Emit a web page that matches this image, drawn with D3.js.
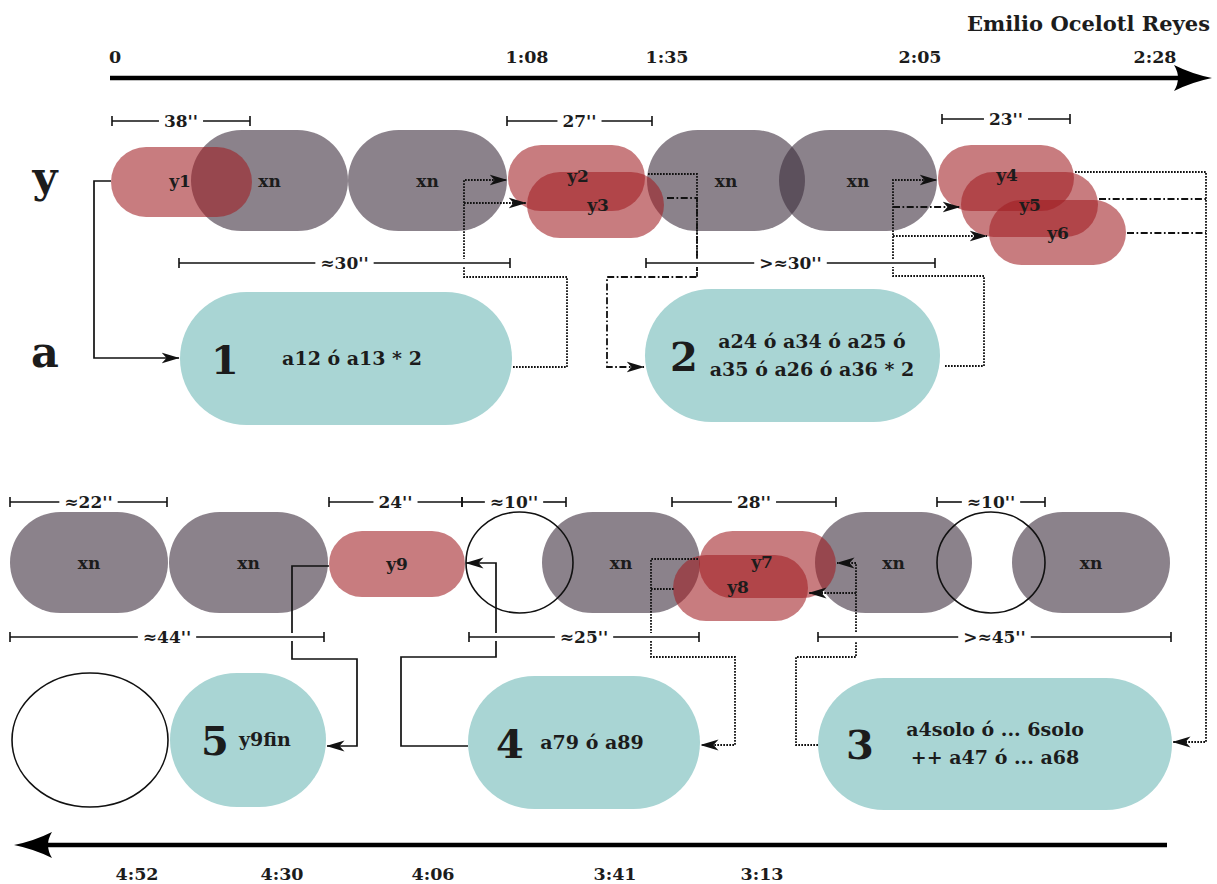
<!DOCTYPE html>
<html>
<head>
<meta charset="utf-8">
<script src="https://cdn.jsdelivr.net/npm/d3@7"></script>
<style>
body { margin: 0; background: #fff; }
svg { display: block; }
text { font-family: "DejaVu Serif", serif; font-weight: bold; fill: #1c1c1c; }
</style>
</head>
<body>
<div id="chart"></div>
<script>
var W = 1217, H = 884;

// the diagram is laid out in "score units" (one unit per px of the original sheet)
var x = d3.scaleLinear().domain([0, 1217]).range([0, W]);
var y = d3.scaleLinear().domain([0, 884]).range([0, H]);

// timeline ticks
var topTicks = ["0", "1:08", "1:35", "2:05", "2:28"];
var topTickAt = [115, 527, 667, 920, 1155];
var bottomTicks = ["4:52", "4:30", "4:06", "3:41", "3:13"];
var bottomTickAt = [137, 282, 433, 615, 762];

// track names
var tracks = ["y", "a"];
var trackAt = [182, 357];

// voice blocks: label, start, end, top, bottom
var xnBlocks = [
  ["xn", 191, 348, 130, 231], ["xn", 348, 507, 130, 231],
  ["xn", 647, 805, 130, 231], ["xn", 779, 937, 130, 231],
  ["xn", 10, 168, 512, 613], ["xn", 169, 328, 512, 613],
  ["xn", 542, 700, 512, 613], ["xn", 815, 972, 512, 613],
  ["xn", 1012, 1170, 512, 613]
];
// y blocks: label, start, end, top, bottom, label pos, label height
var yBlocks = [
  ["y1", 111, 252, 147, 217, 180, 181],
  ["y2", 508, 645, 145, 211, 578, 176],
  ["y3", 527, 664, 172, 238, 598, 205],
  ["y4", 938, 1074, 145, 211, 1007, 175],
  ["y5", 961, 1098, 172, 237, 1030, 205],
  ["y6", 989, 1126, 200, 265, 1058, 233],
  ["y9", 329, 465, 531, 597, 397, 564],
  ["y7", 699, 836, 531, 598, 762, 562],
  ["y8", 673, 808, 555, 621, 738, 587]
];
// answer blocks: number, text lines, start, end, top, bottom, text pos
var aBlocks = [
  ["1", ["a12 ó a13 * 2"], 180, 512, 292, 425, 352],
  ["2", ["a24 ó a34 ó a25 ó", "a35 ó a26 ó a36 * 2"], 645, 940, 289, 422, 812],
  ["3", ["a4solo ó ... 6solo", "++ a47 ó ... a68"], 818, 1172, 678, 810, 995],
  ["4", ["a79 ó a89"], 468, 700, 676, 809, 592],
  ["5", ["y9fin"], 170, 326, 673, 807, 265]
];
var aNumberAt = [225, 684, 860, 510, 215];

// silences (empty circles): start, end, top, bottom
var rests = [[466, 573, 512, 613], [937, 1045, 512, 613], [12, 168, 673, 807]];

// durations: label, start, end, height
var spans = [
  ["38''", 112, 250, 121], ["27''", 507, 652, 121], ["23''", 942, 1070, 119],
  ["≈30''", 179, 510, 263], [">≈30''", 646, 935, 263],
  ["≈22''", 10, 167, 502], ["24''", 329, 462, 502], ["≈10''", 462, 566, 502],
  ["28''", 672, 836, 502], ["≈10''", 937, 1045, 502],
  ["≈44''", 10, 324, 637], ["≈25''", 469, 699, 637], [">≈45''", 818, 1171, 637]
];

// links between blocks: style, arrow, path
var links = [
  ["solid", true, [[111, 181], [94, 181], [94, 358], [179, 358]]],
  ["dot", true, [[513, 367], [567, 367], [567, 277], [464, 277], [464, 180], [507, 180]]],
  ["dot", true, [[464, 203], [526, 203]]],
  ["dot", false, [[648, 174], [697, 174], [697, 277]]],
  ["dashdot", true, [[667, 198], [697, 198], [697, 277], [607, 277], [607, 367], [644, 367]]],
  ["dot", true, [[945, 366], [984, 366], [984, 276], [893, 276], [893, 180], [937, 180]]],
  ["dashdot", true, [[893, 207], [960, 207]]],
  ["dot", true, [[893, 236], [987, 236]]],
  ["dot", true, [[1075, 172], [1206, 172], [1206, 742], [1173, 742]]],
  ["dashdot", false, [[1099, 199], [1206, 199]]],
  ["dashdot", false, [[1127, 233], [1206, 233]]],
  ["solid", true, [[329, 566], [292, 566], [292, 659], [357, 659], [357, 746], [327, 746]]],
  ["solid", true, [[468, 746], [401, 746], [401, 657], [496, 657], [496, 563], [466, 563]]],
  ["dot", true, [[698, 559], [651, 559], [651, 657], [735, 657], [735, 745], [701, 745]]],
  ["dot", false, [[651, 589], [675, 589]]],
  ["dot", true, [[818, 745], [796, 745], [796, 657], [856, 657], [856, 563], [837, 563]]],
  ["dot", true, [[856, 593], [809, 593]]]
];

var svg = d3.select("#chart").append("svg").attr("width", W).attr("height", H);

var defs = svg.append("defs");
defs.append("marker")
  .attr("id", "head")
  .attr("viewBox", "0 0 18 13")
  .attr("refX", 17.5).attr("refY", 6.5)
  .attr("markerWidth", 18).attr("markerHeight", 13)
  .attr("markerUnits", "userSpaceOnUse")
  .attr("orient", "auto")
  .append("path")
  .attr("d", "M0,1 L18,6.5 L0,12 L5,6.5 Z")
  .attr("fill", "#111");

function pill(g, x0, x1, y0, y1) {
  var h = y(y1) - y(y0);
  return g.append("rect")
    .attr("x", x(x0)).attr("y", y(y0))
    .attr("width", x(x1) - x(x0)).attr("height", h)
    .attr("rx", Math.min(h / 2, (x(x1) - x(x0)) / 2)).attr("ry", h / 2);
}

// timelines
function bigArrow(x0, x1, yy, dir) {
  svg.append("line")
    .attr("x1", x(x0)).attr("x2", x(x1) - dir * 30)
    .attr("y1", y(yy)).attr("y2", y(yy))
    .attr("stroke", "#000").attr("stroke-width", 4.5);
  var tip = x(x1), b = tip - dir * 38, m = tip - dir * 30;
  svg.append("path")
    .attr("d", "M" + tip + "," + y(yy) + " Q" + (tip - dir * 20) + "," + (y(yy) - 4) + " " + b + "," + (y(yy) - 13) +
      " Q" + m + "," + y(yy) + " " + b + "," + (y(yy) + 13) +
      " Q" + (tip - dir * 20) + "," + (y(yy) + 4) + " " + tip + "," + y(yy) + " Z")
    .attr("fill", "#000");
}
bigArrow(110, 1212, 78, 1);
bigArrow(1167, 14, 845, -1);

svg.selectAll(".ttick").data(topTicks).enter().append("text")
  .attr("x", function(d, i) { return x(topTickAt[i]); })
  .attr("y", y(63))
  .attr("text-anchor", "middle")
  .attr("font-size", 17.5).text(function(d) { return d; });
svg.selectAll(".btick").data(bottomTicks).enter().append("text")
  .attr("x", function(d, i) { return x(bottomTickAt[i]); })
  .attr("y", y(880))
  .attr("text-anchor", "middle")
  .attr("font-size", 17.5).text(function(d) { return d; });
svg.append("text").attr("x", x(1210)).attr("y", y(31)).attr("text-anchor", "end")
  .attr("font-size", 21).text("Emilio Ocelotl Reyes");

svg.selectAll(".track").data(tracks).enter().append("text")
  .attr("x", x(45)).attr("y", function(d, i) { return y(trackAt[i]) + 10; })
  .attr("text-anchor", "middle").attr("font-size", 43)
  .text(function(d) { return d; });

// answer blocks (teal)
var aG = svg.append("g");
aBlocks.forEach(function(d) {
  pill(aG, d[2], d[3], d[4], d[5]).attr("fill", "#a9d5d4");
});

// xn blocks
var xG = svg.append("g");
xnBlocks.forEach(function(d) {
  pill(xG, d[1], d[2], d[3], d[4]).attr("fill", "#3e2f3e").attr("fill-opacity", 0.6);
});
// y blocks on top
var yG = svg.append("g");
yBlocks.forEach(function(d) {
  pill(yG, d[1], d[2], d[3], d[4]).attr("fill", "#a01e23").attr("fill-opacity", 0.58);
});

// rest outlines above blocks
svg.selectAll(".rest").data(rests).enter().append("ellipse")
  .attr("cx", function(d) { return x((d[0] + d[1]) / 2); })
  .attr("cy", function(d) { return y((d[2] + d[3]) / 2); })
  .attr("rx", function(d) { return (x(d[1]) - x(d[0])) / 2; })
  .attr("ry", function(d) { return (y(d[3]) - y(d[2])) / 2; })
  .attr("fill", "none").attr("stroke", "#111").attr("stroke-width", 1.6);

// block labels
xnBlocks.forEach(function(d) {
  svg.append("text").attr("x", x((d[1] + d[2]) / 2)).attr("y", y((d[3] + d[4]) / 2) + 6)
    .attr("text-anchor", "middle").attr("font-size", 17).text(d[0]);
});
yBlocks.forEach(function(d) {
  svg.append("text").attr("x", x(d[5])).attr("y", y(d[6]) + 6)
    .attr("text-anchor", "middle").attr("font-size", 17).attr("fill", "#2a1a1a").text(d[0]);
});
aBlocks.forEach(function(d, k) {
  var cy = (d[4] + d[5]) / 2;
  svg.append("text").attr("x", x(aNumberAt[k])).attr("y", y(cy) + 15)
    .attr("text-anchor", "middle").attr("font-size", 40).text(d[0]);
  d[1].forEach(function(line, i) {
    svg.append("text")
      .attr("x", x(d[6]))
      .attr("y", y(cy) + 6 + (i - (d[1].length - 1) / 2) * 28)
      .attr("text-anchor", "middle").attr("font-size", 19).text(line);
  });
});

// links
var line = d3.line().x(function(p) { return x(p[0]); }).y(function(p) { return y(p[1]); });
var dash = { solid: null, dot: "1.7,1.3", dashdot: "7,2.5,1.7,2.5" };
links.forEach(function(d) {
  svg.append("path").attr("d", line(d[2]))
    .attr("fill", "none").attr("stroke", "#111")
    .attr("stroke-width", d[0] == "solid" ? 1.7 : 1.8)
    .attr("stroke-dasharray", dash[d[0]])
    .attr("marker-end", d[1] ? "url(#head)" : null);
});

// durations (drawn over the links, leaving a small white gap where they cross)
spans.forEach(function(d) {
  var g = svg.append("g");
  var yy = y(d[3]);
  var t = g.append("text").attr("x", x((d[1] + d[2]) / 2)).attr("y", yy + 6)
    .attr("text-anchor", "middle").attr("font-size", 17).text(d[0]);
  var bb = t.node().getBBox();
  var segs = [[x(d[1]), bb.x - 5], [bb.x + bb.width + 5, x(d[2])]];
  segs.forEach(function(s) {
    g.insert("line", "text").attr("x1", s[0] + 3).attr("x2", s[1] - 3).attr("y1", yy).attr("y2", yy)
      .attr("stroke", "#fff").attr("stroke-width", 8);
  });
  segs.forEach(function(s) {
    g.insert("line", "text").attr("x1", s[0]).attr("x2", s[1]).attr("y1", yy).attr("y2", yy)
      .attr("stroke", "#111").attr("stroke-width", 1.6);
  });
  [d[1], d[2]].forEach(function(e) {
    g.insert("line", "text").attr("x1", x(e)).attr("x2", x(e)).attr("y1", yy - 5).attr("y2", yy + 5)
      .attr("stroke", "#111").attr("stroke-width", 1.6);
  });
});
</script>
</body>
</html>
